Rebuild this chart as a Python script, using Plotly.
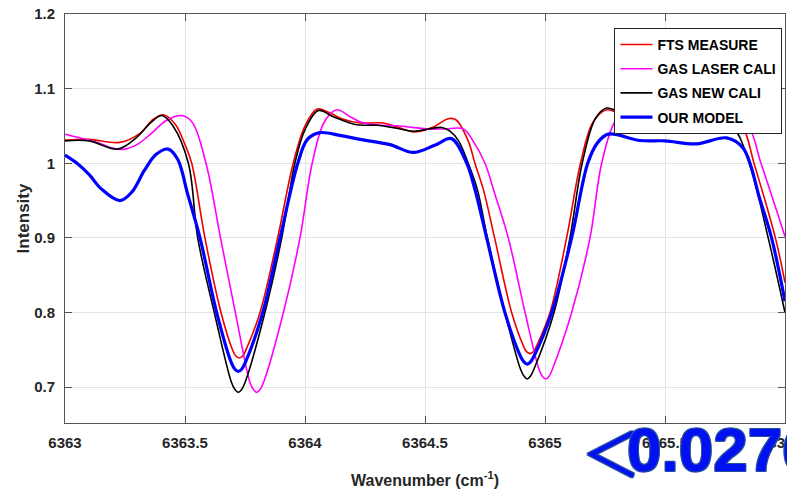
import plotly.graph_objects as go

# ---- data ----
fts_x = [6363.00, 6363.10, 6363.229, 6363.3125, 6363.368, 6363.41, 6363.46, 6363.50, 6363.528,
         6363.583, 6363.65, 6363.698, 6363.711, 6363.726, 6363.741, 6363.754, 6363.8125, 6363.886,
         6363.951, 6364.00, 6364.049, 6364.10, 6364.15, 6364.229, 6364.326, 6364.40, 6364.451,
         6364.53, 6364.60, 6364.63, 6364.68, 6364.708, 6364.743, 6364.79, 6364.861, 6364.909,
         6364.922, 6364.9375, 6364.953, 6364.966, 6365.021, 6365.09, 6365.148, 6365.20, 6365.257,
         6365.30, 6365.40, 6365.50, 6365.60, 6365.70, 6365.78, 6365.826, 6365.871, 6365.96, 6366.00]
fts_y = [1.031, 1.032, 1.028, 1.040, 1.059, 1.065, 1.052, 1.025, 1.000,
         0.900, 0.800, 0.750, 0.742, 0.739, 0.742, 0.750, 0.800, 0.900,
         1.000, 1.050, 1.0725, 1.068, 1.060, 1.054, 1.054, 1.047, 1.042,
         1.048, 1.060, 1.058, 1.030, 1.000, 0.965, 0.900, 0.800, 0.756,
         0.748, 0.745, 0.748, 0.756, 0.800, 0.900, 1.000, 1.055, 1.0716,
         1.068, 1.058, 1.055, 1.052, 1.055, 1.058, 1.047, 1.000, 0.900, 0.840]

laser_x = [6363.00, 6363.10, 6363.15, 6363.20, 6363.25, 6363.30, 6363.36, 6363.42, 6363.486,
           6363.53, 6363.5875, 6363.648, 6363.71, 6363.77, 6363.785, 6363.799, 6363.813, 6363.828,
           6363.91, 6363.979, 6364.03, 6364.08, 6364.132, 6364.19, 6364.243, 6364.32, 6364.396,
           6364.507, 6364.58, 6364.66, 6364.70, 6364.75, 6364.785, 6364.847, 6364.917, 6364.974,
           6364.988, 6365.003, 6365.018, 6365.032, 6365.111, 6365.1875, 6365.236, 6365.29,
           6365.34, 6365.40, 6365.50, 6365.60, 6365.70, 6365.78, 6365.847, 6365.90, 6366.00]
laser_y = [1.039, 1.031, 1.026, 1.020, 1.019, 1.025, 1.040, 1.057, 1.064,
           1.055, 1.000, 0.900, 0.800, 0.707, 0.697, 0.693, 0.697, 0.707,
           0.800, 0.900, 1.000, 1.055, 1.0716, 1.062, 1.054, 1.051, 1.050,
           1.046, 1.046, 1.046, 1.030, 1.000, 0.965, 0.900, 0.800, 0.725,
           0.715, 0.711, 0.715, 0.725, 0.800, 0.900, 1.000, 1.055,
           1.071, 1.065, 1.055, 1.052, 1.052, 1.058, 1.049, 1.000, 0.902]

newcal_x = [6363.00, 6363.10, 6363.22, 6363.30, 6363.35, 6363.403, 6363.45, 6363.514, 6363.553,
            6363.622, 6363.693, 6363.708, 6363.722, 6363.736, 6363.751, 6363.833, 6363.903, 6363.958,
            6364.00, 6364.056, 6364.12, 6364.215, 6364.30, 6364.382, 6364.45, 6364.57, 6364.604,
            6364.64, 6364.68, 6364.718, 6364.76, 6364.833, 6364.897, 6364.912, 6364.926, 6364.940,
            6364.955, 6365.0375, 6365.104, 6365.155, 6365.21, 6365.257, 6365.30, 6365.40, 6365.50,
            6365.60, 6365.70, 6365.785, 6365.851, 6365.930, 6366.00]
newcal_y = [1.030, 1.030, 1.019, 1.035, 1.052, 1.064, 1.050, 1.000, 0.900,
            0.800, 0.707, 0.697, 0.693, 0.697, 0.707, 0.800, 0.900, 1.000,
            1.045, 1.0707, 1.062, 1.0515, 1.051, 1.047, 1.043, 1.048, 1.043,
            1.030, 1.000, 0.965, 0.900, 0.800, 0.725, 0.715, 0.711, 0.715,
            0.725, 0.800, 0.900, 1.000, 1.060, 1.074, 1.070, 1.058, 1.055,
            1.053, 1.057, 1.047, 1.000, 0.900, 0.800]

model_x = [6363.00, 6363.05, 6363.10, 6363.15, 6363.229, 6363.28, 6363.33, 6363.38, 6363.43,
           6363.47, 6363.51, 6363.5625, 6363.632, 6363.693, 6363.708, 6363.722, 6363.736, 6363.751,
           6363.824, 6363.896, 6363.97, 6364.01, 6364.0625, 6364.15, 6364.229, 6364.354, 6364.451,
           6364.54, 6364.61, 6364.674, 6364.708, 6364.757, 6364.833, 6364.897, 6364.912, 6364.926,
           6364.940, 6364.955, 6365.028, 6365.111, 6365.178, 6365.22, 6365.264, 6365.396, 6365.50,
           6365.632, 6365.757, 6365.826, 6365.896, 6365.944, 6366.00]
model_y = [1.011, 1.000, 0.985, 0.966, 0.950, 0.962, 0.990, 1.012, 1.019,
           1.005, 0.960, 0.900, 0.800, 0.733, 0.724, 0.721, 0.724, 0.733,
           0.800, 0.900, 1.000, 1.032, 1.041, 1.037, 1.032, 1.025, 1.0145,
           1.024, 1.033, 1.000, 0.965, 0.900, 0.800, 0.742, 0.734, 0.731,
           0.734, 0.742, 0.800, 0.900, 1.000, 1.028, 1.039, 1.0305, 1.030,
           1.026, 1.034, 1.020, 0.951, 0.900, 0.815]

x_ticks = [6363, 6363.5, 6364, 6364.5, 6365, 6365.5, 6366]
x_tick_text = ["6363", "6363.5", "6364", "6364.5", "6365", "6365.5", "6366"]
y_ticks = [0.7, 0.8, 0.9, 1.0, 1.1, 1.2]
y_tick_text = ["0.7", "0.8", "0.9", "1", "1.1", "1.2"]

series = [
    ("FTS MEASURE", fts_x, fts_y, "#ee0000", 1.6),
    ("GAS LASER CALI", laser_x, laser_y, "#ff00ff", 1.6),
    ("GAS NEW CALI", newcal_x, newcal_y, "#000000", 1.6),
    ("OUR MODEL", model_x, model_y, "#0000ff", 3.2),
]

fig = go.Figure()
for name, xs, ys, col, w in series:
    fig.add_trace(go.Scatter(
        x=xs, y=ys, name=name, mode="lines", legendgroup=name,
        line=dict(color=col, width=w, shape="spline", smoothing=1.0),
    ))

font_main = "Liberation Sans, Arial, sans-serif"
axis_col = "#555555"
grid_col = "#e3e3e3"

fig.update_layout(
    width=787, height=493,
    margin=dict(l=65, r=2, t=14, b=70, autoexpand=False),
    paper_bgcolor="white", plot_bgcolor="white",
    font=dict(family=font_main, size=15, color="#262626"),
    showlegend=True,
    legend=dict(
        x=0.9965, y=0.966, xanchor="right", yanchor="top",
        bgcolor="white", bordercolor="#222222", borderwidth=1,
        font=dict(family=font_main, size=14, color="#000000", weight="bold"),
        tracegroupgap=3, traceorder="grouped", itemwidth=32,
    ),
    xaxis=dict(
        range=[6363, 6366], tickvals=x_ticks, ticktext=x_tick_text, automargin=False,
        showgrid=True, gridcolor=grid_col, gridwidth=1,
        showline=True, linecolor=axis_col, linewidth=1, mirror="ticks",
        ticks="inside", ticklen=7, tickcolor=axis_col,
        tickfont=dict(family=font_main, size=15, color="#262626", weight="bold"),
        ticklabelstandoff=6, ticklabeloverflow="allow", zeroline=False,
        title=dict(text="Wavenumber (cm<sup>-1</sup>)", standoff=24,
                   font=dict(family=font_main, size=16, color="#262626", weight="bold")),
    ),
    yaxis=dict(
        range=[0.652, 1.2], tickvals=y_ticks, ticktext=y_tick_text, automargin=False,
        showgrid=True, gridcolor=grid_col, gridwidth=1,
        showline=True, linecolor=axis_col, linewidth=1, mirror="ticks",
        ticks="inside", ticklen=7, tickcolor=axis_col,
        tickfont=dict(family=font_main, size=15, color="#262626", weight="bold"),
        ticklabelstandoff=6, ticklabeloverflow="allow", zeroline=False,
        title=dict(text="Intensity", standoff=0,
                   font=dict(family=font_main, size=17, color="#262626", weight="bold")),
    ),
)

outline = "#2850a0"
shadow = (f"1px 1px 0 {outline}, -1px -1px 0 {outline}, "
          f"1px -1px 0 {outline}, -1px 1px 0 {outline}")
fig.add_annotation(
    xref="paper", yref="paper", x=0.714, y=-0.068, xanchor="left", yanchor="middle",
    text="＜", showarrow=False,
    font=dict(family="Noto Sans CJK SC", size=60, color="#0010f0", shadow=shadow),
)
fig.add_annotation(
    xref="paper", yref="paper", x=0.778, y=-0.064, xanchor="left", yanchor="middle",
    text="0.0276", showarrow=False,
    font=dict(family=font_main, size=62, color="#0010f0", weight="bold", shadow=shadow),
)

fig.write_html("out.html", config={"displayModeBar": False},
               post_script="document.body.style.margin='0px';")
